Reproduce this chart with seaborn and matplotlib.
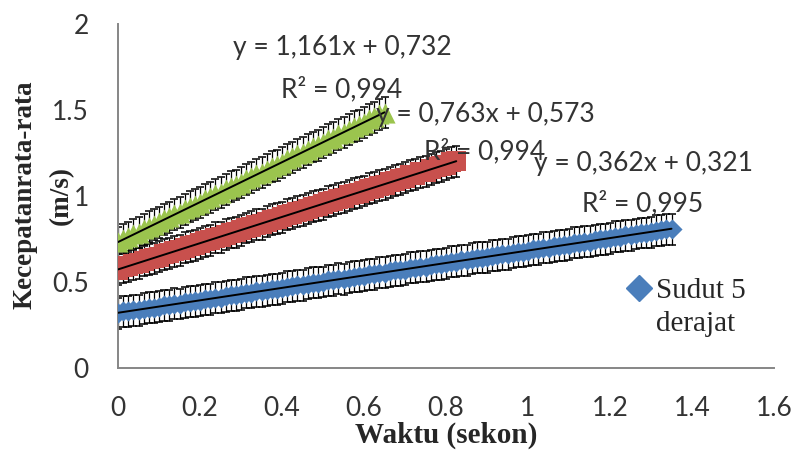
import numpy as np
import pandas as pd
import matplotlib
matplotlib.use("Agg")
import matplotlib.pyplot as plt
import seaborn as sns
from matplotlib.lines import Line2D

# ---- data ----
time = [0.0000, 0.0125, 0.0250, 0.0375, 0.0500, 0.0625, 0.0750, 0.0875, 0.1000, 0.1125,
        0.1250, 0.1375, 0.1500, 0.1625, 0.1750, 0.1875, 0.2000, 0.2125, 0.2250, 0.2375,
        0.2500, 0.2625, 0.2750, 0.2875, 0.3000, 0.3125, 0.3250, 0.3375, 0.3500, 0.3625,
        0.3750, 0.3875, 0.4000, 0.4125, 0.4250, 0.4375, 0.4500, 0.4625, 0.4750, 0.4875,
        0.5000, 0.5125, 0.5250, 0.5375, 0.5500, 0.5625, 0.5750, 0.5875, 0.6000, 0.6125,
        0.6250, 0.6375, 0.6500, 0.6625, 0.6750, 0.6875, 0.7000, 0.7125, 0.7250, 0.7375,
        0.7500, 0.7625, 0.7750, 0.7875, 0.8000, 0.8125, 0.8250, 0.8375, 0.8500, 0.8625,
        0.8750, 0.8875, 0.9000, 0.9125, 0.9250, 0.9375, 0.9500, 0.9625, 0.9750, 0.9875,
        1.0000, 1.0125, 1.0250, 1.0375, 1.0500, 1.0625, 1.0750, 1.0875, 1.1000, 1.1125,
        1.1250, 1.1375, 1.1500, 1.1625, 1.1750, 1.1875, 1.2000, 1.2125, 1.2250, 1.2375,
        1.2500, 1.2625, 1.2750, 1.2875, 1.3000, 1.3125, 1.3250, 1.3375, 1.3500]

v_blue = [0.319, 0.329, 0.329, 0.337, 0.336, 0.345, 0.350, 0.351, 0.355, 0.365,
          0.365, 0.373, 0.372, 0.381, 0.386, 0.387, 0.391, 0.401, 0.401, 0.409,
          0.409, 0.417, 0.423, 0.423, 0.428, 0.437, 0.438, 0.445, 0.445, 0.453,
          0.459, 0.459, 0.464, 0.473, 0.474, 0.481, 0.481, 0.489, 0.495, 0.496,
          0.500, 0.510, 0.510, 0.518, 0.517, 0.526, 0.531, 0.532, 0.536, 0.546,
          0.546, 0.554, 0.553, 0.562, 0.567, 0.568, 0.572, 0.582, 0.582, 0.590,
          0.590, 0.598, 0.604, 0.604, 0.609, 0.618, 0.619, 0.626, 0.626, 0.634,
          0.640, 0.640, 0.645, 0.654, 0.655, 0.662, 0.662, 0.670, 0.676, 0.677,
          0.681, 0.691, 0.691, 0.699, 0.698, 0.707, 0.712, 0.713, 0.717, 0.727,
          0.727, 0.735, 0.734, 0.743, 0.748, 0.749, 0.753, 0.763, 0.763, 0.771,
          0.771, 0.779, 0.785, 0.785, 0.790, 0.799, 0.800, 0.807, 0.807]

v_red = [0.571, 0.586, 0.591, 0.604, 0.608, 0.622, 0.632, 0.638, 0.647, 0.662,
         0.667, 0.680, 0.685, 0.698, 0.709, 0.714, 0.724, 0.738, 0.744, 0.756,
         0.761, 0.774, 0.785, 0.790, 0.800, 0.814, 0.820, 0.833, 0.837, 0.851,
         0.861, 0.867, 0.876, 0.891, 0.896, 0.909, 0.913, 0.927, 0.937, 0.943,
         0.953, 0.967, 0.973, 0.985, 0.990, 1.003, 1.014, 1.019, 1.029, 1.043,
         1.049, 1.061, 1.066, 1.080, 1.090, 1.096, 1.105, 1.120, 1.125, 1.138,
         1.142, 1.156, 1.166, 1.172, 1.181, 1.196, 1.201]

v_green = [0.730, 0.750, 0.760, 0.778, 0.787, 0.806, 0.821, 0.832, 0.846, 0.866,
           0.876, 0.894, 0.903, 0.922, 0.937, 0.948, 0.962, 0.982, 0.992, 1.010,
           1.019, 1.038, 1.053, 1.064, 1.078, 1.098, 1.108, 1.126, 1.135, 1.154,
           1.169, 1.180, 1.194, 1.214, 1.224, 1.242, 1.251, 1.270, 1.285, 1.296,
           1.310, 1.330, 1.340, 1.358, 1.368, 1.386, 1.402, 1.412, 1.427, 1.446,
           1.457, 1.474, 1.484]

err_blue = 0.09
err_red = 0.09
err_green = 0.09

legend_label = ["Sudut 5", "derajat"]
eq_green = ["y = 1,161x + 0,732", "R² = 0,994"]
eq_red = ["y = 0,763x + 0,573", "R² = 0,994"]
eq_blue = ["y = 0,362x + 0,321", "R² = 0,995"]
x_title = "Waktu (sekon)"
y_title = ["Kecepatanrata-rata", "(m/s)"]

x_ticks = [0, 0.2, 0.4, 0.6, 0.8, 1, 1.2, 1.4, 1.6]
x_ticklabels = ["0", "0.2", "0.4", "0.6", "0.8", "1", "1.2", "1.4", "1.6"]
y_ticks = [0, 0.5, 1, 1.5, 2]
y_ticklabels = ["0", "0.5", "1", "1.5", "2"]

# ---- styling ----
sns.set_theme(style="white")
plt.rcParams["font.family"] = ["Lato", "DejaVu Sans"]

C_BLUE = "#4A7EBB"
C_RED = "#C8504D"
C_GREEN = "#9BC44E"
SPINE = "#868686"
TXT = "#262626"

W, H = 801, 461
fig = plt.figure(figsize=(W / 100, H / 100), dpi=100)
ax = fig.add_axes([118 / W, 1 - 368 / H, (774 - 118) / W, (368 - 24) / H])

t_blue = time[:len(v_blue)]
t_red = time[:len(v_red)]
t_green = time[:len(v_green)]

series = [
    (t_blue, v_blue, err_blue, C_BLUE, "D", 105),
    (t_red, v_red, err_red, C_RED, "s", 200),
    (t_green, v_green, err_green, C_GREEN, "^", 210),
]

for t, v, e, c, m, s in series:
    ax.errorbar(t, v, yerr=e, fmt="none", ecolor="black", elinewidth=0.9,
                capsize=3.0, capthick=1.1, zorder=2)
for t, v, e, c, m, s in series:
    sns.scatterplot(x=t, y=v, ax=ax, color=c, marker=m, s=s, linewidth=0,
                    zorder=3, legend=False)
for t, v, e, c, m, s in series:
    sns.regplot(x=t, y=v, ax=ax, scatter=False, ci=None, color="black",
                line_kws={"lw": 1.4, "zorder": 4})

ax.set_xlim(0, 1.6)
ax.set_ylim(0, 2)
ax.set_xticks(x_ticks)
ax.set_xticklabels(x_ticklabels)
ax.set_yticks(y_ticks)
ax.set_yticklabels(y_ticklabels)
ax.tick_params(axis="both", direction="out", length=7, width=1.2, color=SPINE,
               labelsize=19, labelcolor="#333333")
ax.tick_params(axis="x", pad=13)
ax.tick_params(axis="y", pad=14)
for side in ["top", "right"]:
    ax.spines[side].set_visible(False)
for side in ["left", "bottom"]:
    ax.spines[side].set_color(SPINE)
    ax.spines[side].set_linewidth(1.4)

serif = ["Liberation Serif", "DejaVu Serif"]
fig.text(446 / W, 1 - 435 / H, x_title, family=serif, fontweight="bold",
         fontsize=21, color=TXT, ha="center", va="center")
fig.text(25 / W, 1 - 195 / H, y_title[0], family=serif, fontweight="bold",
         fontsize=19.5, color=TXT, ha="center", va="center", rotation=90)
fig.text(61 / W, 1 - 195 / H, y_title[1], family=serif, fontweight="bold",
         fontsize=19.5, color=TXT, ha="center", va="center", rotation=90)

# trendline equations
def put(lines, cx, y1, y2):
    fig.text(cx / W, 1 - y1 / H, lines[0], ha="center", va="center",
             fontsize=19, color="#333333")
    fig.text(cx / W, 1 - y2 / H, lines[1], ha="center", va="center",
             fontsize=19, color="#333333")

put(eq_green, 342, 48, 89)
put(eq_red, 485, 114, 151)
put(eq_blue, 643, 163, 203)

handle = Line2D([], [], marker="D", color=C_BLUE, linestyle="none",
                markersize=13)
fig.legend([handle], [legend_label[0]], loc="center left",
           bbox_to_anchor=(614 / W, 1 - 291 / H), frameon=False,
           prop={"family": serif, "size": 21}, handletextpad=0.15,
           borderaxespad=0, handlelength=0.9)
fig.text(656 / W, 1 - 324 / H, legend_label[1], family=serif, fontsize=21,
         color=TXT, ha="left", va="center")

fig.savefig("out.png", dpi=100)
